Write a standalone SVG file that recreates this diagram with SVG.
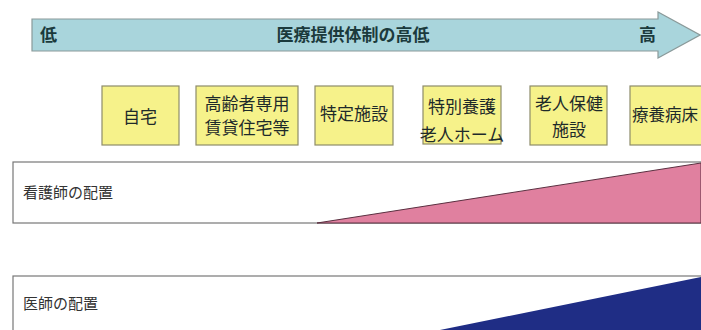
<svg xmlns="http://www.w3.org/2000/svg" width="701" height="330" viewBox="0 0 701 330">
<style>
.t{font-family:"Noto Sans CJK JP","Noto Sans CJK SC",sans-serif;fill:#1e2a2a}
.ab{font-weight:bold;font-size:17px;fill:#1b3a3c}
.bx{fill:#f6f28a;stroke:#8e8c6a;stroke-width:1.2}
.bt{font-size:17px;text-anchor:middle}
.row{fill:#fff;stroke:#777;stroke-width:1.2}
.rl{font-size:15px;fill:#333}
</style>
<rect width="701" height="330" fill="#fff"/>
<g id="arrow">
<path d="M32,19 H658 V12 L700,35 L658,58 V51 H32 Z" fill="#a9d5dc" stroke="#8a9a9a" stroke-width="1.2"/>
<text class="t ab" x="40" y="41">低</text>
<text class="t ab" x="353" y="41" text-anchor="middle" font-size="18">医療提供体制の高低</text>
<text class="t ab" x="639" y="41">高</text>
</g>
<g id="n1"><rect class="bx" x="102" y="86" width="77" height="59"/><text class="t bt" x="140" y="123">自宅</text></g>
<g id="n2"><rect class="bx" x="196" y="86" width="102" height="59"/><text class="t bt" x="247" y="110" font-size="16">高齢者専用</text><text class="t bt" x="247" y="134" font-size="16">賃貸住宅等</text></g>
<g id="n3"><rect class="bx" x="315" y="86" width="78" height="59"/><text class="t bt" x="354" y="120" font-size="18">特定施設</text></g>
<g id="n4"><rect class="bx" x="423" y="86" width="78" height="58"/><text class="t bt" x="462" y="113" font-size="18">特別養護</text><text class="t bt" x="462" y="141" font-size="18">老人ホーム</text></g>
<g id="n5"><rect class="bx" x="530" y="86" width="77" height="59"/><text class="t bt" x="569" y="110" font-size="18">老人保健</text><text class="t bt" x="569" y="136" font-size="18">施設</text></g>
<g id="n6"><rect class="bx" x="630" y="86" width="80" height="59"/><text class="t" x="632" y="121" font-size="16.5">療養病床</text></g>
<g id="nurse">
<rect class="row" x="13" y="162" width="700" height="61"/>
<polygon points="317,223 701,163 701,223" fill="#e0809f" stroke="#5a3040" stroke-width="1"/>
<text class="t rl" x="23" y="198">看護師の配置</text>
</g>
<g id="doctor">
<rect class="row" x="13" y="276" width="700" height="70"/>
<polygon points="435,331 701,277 701,331" fill="#1f2d85"/>
<text class="t rl" x="23" y="309">医師の配置</text>
</g>
<g id="connectors"></g>
</svg>
